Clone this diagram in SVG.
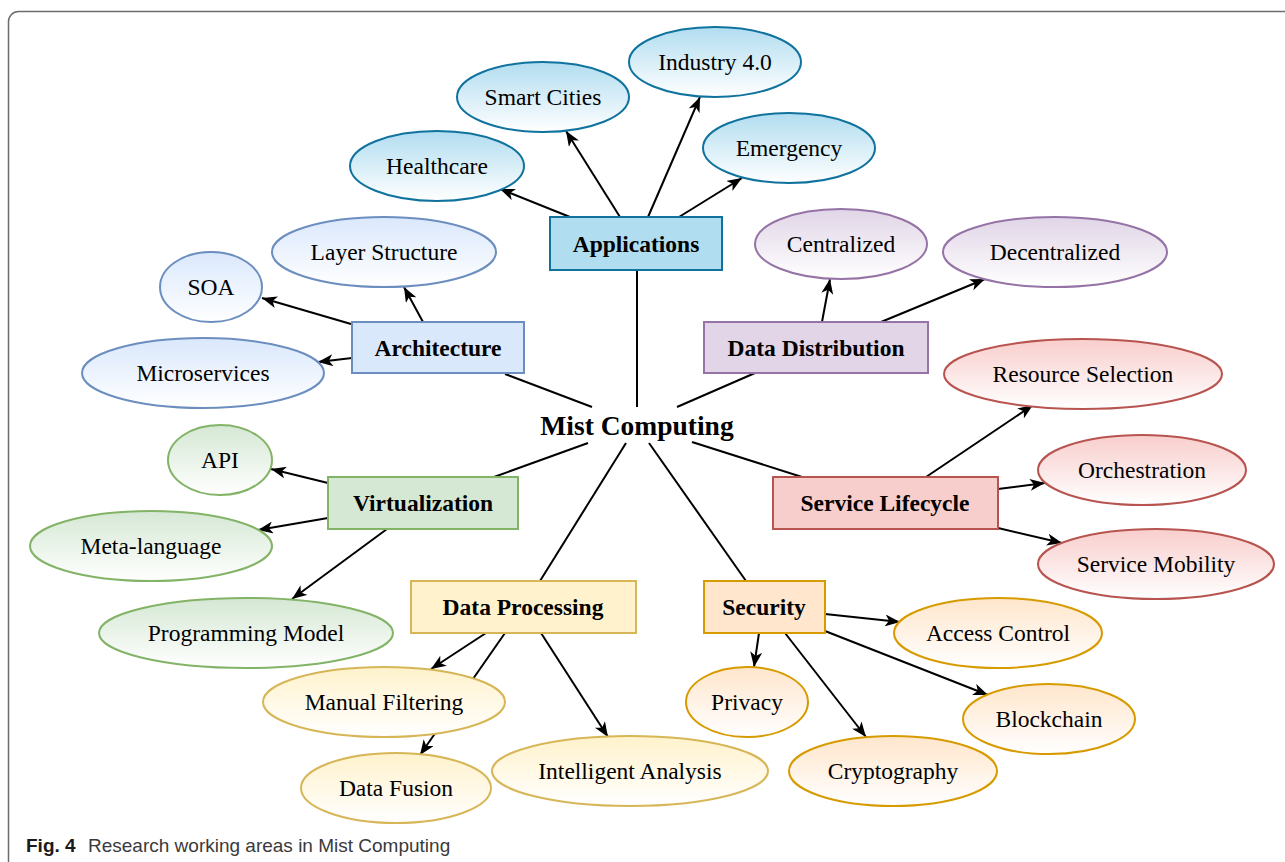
<svg xmlns="http://www.w3.org/2000/svg" width="1285" height="862" viewBox="0 0 1285 862">
  <style>
    .frame { fill: #ffffff; stroke: #6b6b6b; stroke-width: 1.5; }
    .box { stroke-width: 2; }
    .leaf { stroke-width: 2; }
    .label { font-family: "Liberation Serif", "Times New Roman", serif; font-size: 23.5px; fill: #000; text-anchor: middle; dominant-baseline: central; }
    .title { font-weight: bold; }
    .hub { font-family: "Liberation Serif", "Times New Roman", serif; font-size: 27.5px; font-weight: bold; fill: #000; text-anchor: middle; }
    .edge { stroke: #000; stroke-width: 2; fill: none; }
    .arrow { marker-end: url(#head); }
    .caption { font-family: "Liberation Sans", Arial, sans-serif; font-size: 19px; fill: #3a3a3a; }
    .blue .box { fill: #b1ddf0; stroke: #10739e; }
    .blue .leaf { fill: url(#gBlue); stroke: #10739e; }
    .lblue .box { fill: #dae8fc; stroke: #6c8ebf; }
    .lblue .leaf { fill: url(#gLBlue); stroke: #6c8ebf; }
    .purple .box { fill: #e1d5e7; stroke: #9673a6; }
    .purple .leaf { fill: url(#gPurple); stroke: #9673a6; }
    .red .box { fill: #f8cecc; stroke: #b85450; }
    .red .leaf { fill: url(#gRed); stroke: #b85450; }
    .green .box { fill: #d5e8d4; stroke: #82b366; }
    .green .leaf { fill: url(#gGreen); stroke: #82b366; }
    .yellow .box { fill: #fff2cc; stroke: #d6b656; }
    .yellow .leaf { fill: url(#gYellow); stroke: #d6b656; }
    .orange .box { fill: #ffe6cc; stroke: #d79b00; }
    .orange .leaf { fill: url(#gOrange); stroke: #d79b00; }
  </style>
  <defs>
    <marker id="head" markerUnits="userSpaceOnUse" markerWidth="16" markerHeight="12" refX="15" refY="6" orient="auto">
      <path d="M0,0 L15,6 L0,12 L4,6 Z" fill="#000"/>
    </marker>
    <linearGradient id="gBlue" x1="0" y1="0" x2="0" y2="1"><stop offset="0" stop-color="#b1ddf0"/><stop offset="1" stop-color="#ffffff"/></linearGradient>
    <linearGradient id="gLBlue" x1="0" y1="0" x2="0" y2="1"><stop offset="0" stop-color="#dae8fc"/><stop offset="1" stop-color="#ffffff"/></linearGradient>
    <linearGradient id="gPurple" x1="0" y1="0" x2="0" y2="1"><stop offset="0" stop-color="#e1d5e7"/><stop offset="1" stop-color="#ffffff"/></linearGradient>
    <linearGradient id="gRed" x1="0" y1="0" x2="0" y2="1"><stop offset="0" stop-color="#f8cecc"/><stop offset="1" stop-color="#ffffff"/></linearGradient>
    <linearGradient id="gGreen" x1="0" y1="0" x2="0" y2="1"><stop offset="0" stop-color="#d5e8d4"/><stop offset="1" stop-color="#ffffff"/></linearGradient>
    <linearGradient id="gYellow" x1="0" y1="0" x2="0" y2="1"><stop offset="0" stop-color="#fff2cc"/><stop offset="1" stop-color="#ffffff"/></linearGradient>
    <linearGradient id="gOrange" x1="0" y1="0" x2="0" y2="1"><stop offset="0" stop-color="#ffe6cc"/><stop offset="1" stop-color="#ffffff"/></linearGradient>
  </defs>

  <!-- page frame, open at right and bottom -->
  <rect class="frame" x="8.5" y="11.5" width="1320" height="900" rx="10"/>

  <!-- connectors (drawn first so shapes sit on top) -->
  <g id="connectors">
    <!-- hub to categories -->
    <line class="edge" x1="637" y1="270" x2="637" y2="407"/>
    <line class="edge" x1="505" y1="374" x2="592" y2="407"/>
    <line class="edge" x1="755" y1="373" x2="677" y2="407"/>
    <line class="edge" x1="494" y1="477" x2="588" y2="443"/>
    <line class="edge" x1="540" y1="581" x2="626" y2="443"/>
    <line class="edge" x1="746" y1="581" x2="649" y2="443"/>
    <line class="edge" x1="802" y1="477" x2="692" y2="442"/>
    <!-- Applications -->
    <line class="edge arrow" x1="570" y1="217" x2="500" y2="189"/>
    <line class="edge arrow" x1="620" y1="217" x2="566" y2="131"/>
    <line class="edge arrow" x1="648" y1="217" x2="700" y2="97"/>
    <line class="edge arrow" x1="679" y1="217" x2="742" y2="178"/>
    <!-- Architecture -->
    <line class="edge arrow" x1="351" y1="324" x2="262" y2="298"/>
    <line class="edge arrow" x1="423" y1="322" x2="404" y2="287"/>
    <line class="edge arrow" x1="352" y1="358" x2="318" y2="362"/>
    <!-- Data Distribution -->
    <line class="edge arrow" x1="822" y1="322" x2="830" y2="279"/>
    <line class="edge arrow" x1="881" y1="322" x2="985" y2="279"/>
    <!-- Service Lifecycle -->
    <line class="edge arrow" x1="926" y1="477" x2="1033" y2="405"/>
    <line class="edge arrow" x1="998" y1="489" x2="1045" y2="483"/>
    <line class="edge arrow" x1="998" y1="528" x2="1062" y2="543"/>
    <!-- Security -->
    <line class="edge arrow" x1="825" y1="614" x2="900" y2="622"/>
    <line class="edge arrow" x1="825" y1="631" x2="988" y2="695"/>
    <line class="edge arrow" x1="759" y1="633" x2="754" y2="667"/>
    <line class="edge arrow" x1="785" y1="633" x2="866" y2="737"/>
    <!-- Virtualization -->
    <line class="edge arrow" x1="328" y1="483" x2="271" y2="469"/>
    <line class="edge arrow" x1="328" y1="518" x2="258" y2="530"/>
    <line class="edge arrow" x1="387" y1="529" x2="292" y2="599"/>
    <!-- Data Processing -->
    <line class="edge arrow" x1="486" y1="633" x2="431" y2="669"/>
    <line class="edge arrow" x1="505" y1="633" x2="420" y2="755"/>
    <line class="edge arrow" x1="541" y1="633" x2="608" y2="737"/>
  </g>

  <!-- hub -->
  <g id="mist-computing">
    <text class="hub" x="637" y="435">Mist Computing</text>
  </g>

  <!-- Applications -->
  <g id="applications" class="blue">
    <rect class="box" x="550" y="217" width="172" height="53"/>
    <text class="label title" x="636" y="244">Applications</text>
  </g>
  <g id="healthcare" class="blue">
    <ellipse class="leaf" cx="437" cy="166" rx="87" ry="35"/>
    <text class="label" x="437" y="166">Healthcare</text>
  </g>
  <g id="smart-cities" class="blue">
    <ellipse class="leaf" cx="543" cy="97" rx="86" ry="35"/>
    <text class="label" x="543" y="97">Smart Cities</text>
  </g>
  <g id="industry-40" class="blue">
    <ellipse class="leaf" cx="715" cy="62" rx="86" ry="35"/>
    <text class="label" x="715" y="62">Industry 4.0</text>
  </g>
  <g id="emergency" class="blue">
    <ellipse class="leaf" cx="789" cy="148" rx="86" ry="35"/>
    <text class="label" x="789" y="148">Emergency</text>
  </g>

  <!-- Architecture -->
  <g id="architecture" class="lblue">
    <rect class="box" x="352" y="322" width="172" height="51"/>
    <text class="label title" x="438" y="348">Architecture</text>
  </g>
  <g id="layer-structure" class="lblue">
    <ellipse class="leaf" cx="384" cy="252" rx="112" ry="35"/>
    <text class="label" x="384" y="252">Layer Structure</text>
  </g>
  <g id="soa" class="lblue">
    <ellipse class="leaf" cx="211" cy="287" rx="51" ry="35"/>
    <text class="label" x="211" y="287">SOA</text>
  </g>
  <g id="microservices" class="lblue">
    <ellipse class="leaf" cx="203" cy="373" rx="121" ry="35"/>
    <text class="label" x="203" y="373">Microservices</text>
  </g>

  <!-- Data Distribution -->
  <g id="data-distribution" class="purple">
    <rect class="box" x="704" y="322" width="224" height="51"/>
    <text class="label title" x="816" y="348">Data Distribution</text>
  </g>
  <g id="centralized" class="purple">
    <ellipse class="leaf" cx="841" cy="244" rx="86" ry="35"/>
    <text class="label" x="841" y="244">Centralized</text>
  </g>
  <g id="decentralized" class="purple">
    <ellipse class="leaf" cx="1055" cy="252" rx="112" ry="35"/>
    <text class="label" x="1055" y="252">Decentralized</text>
  </g>

  <!-- Service Lifecycle -->
  <g id="service-lifecycle" class="red">
    <rect class="box" x="773" y="477" width="225" height="52"/>
    <text class="label title" x="885" y="503">Service Lifecycle</text>
  </g>
  <g id="resource-selection" class="red">
    <ellipse class="leaf" cx="1083" cy="374" rx="139" ry="35"/>
    <text class="label" x="1083" y="374">Resource Selection</text>
  </g>
  <g id="orchestration" class="red">
    <ellipse class="leaf" cx="1142" cy="470" rx="104" ry="35"/>
    <text class="label" x="1142" y="470">Orchestration</text>
  </g>
  <g id="service-mobility" class="red">
    <ellipse class="leaf" cx="1156" cy="564" rx="118" ry="35"/>
    <text class="label" x="1156" y="564">Service Mobility</text>
  </g>

  <!-- Security -->
  <g id="security" class="orange">
    <rect class="box" x="704" y="581" width="121" height="52"/>
    <text class="label title" x="764" y="607">Security</text>
  </g>
  <g id="access-control" class="orange">
    <ellipse class="leaf" cx="998" cy="633" rx="104" ry="35"/>
    <text class="label" x="998" y="633">Access Control</text>
  </g>
  <g id="privacy" class="orange">
    <ellipse class="leaf" cx="747" cy="702" rx="61" ry="35"/>
    <text class="label" x="747" y="702">Privacy</text>
  </g>
  <g id="blockchain" class="orange">
    <ellipse class="leaf" cx="1049" cy="719" rx="86" ry="35"/>
    <text class="label" x="1049" y="719">Blockchain</text>
  </g>
  <g id="cryptography" class="orange">
    <ellipse class="leaf" cx="893" cy="771" rx="104" ry="35"/>
    <text class="label" x="893" y="771">Cryptography</text>
  </g>

  <!-- Virtualization -->
  <g id="virtualization" class="green">
    <rect class="box" x="328" y="477" width="190" height="52"/>
    <text class="label title" x="423" y="503">Virtualization</text>
  </g>
  <g id="api" class="green">
    <ellipse class="leaf" cx="220" cy="460" rx="52" ry="35"/>
    <text class="label" x="220" y="460">API</text>
  </g>
  <g id="meta-language" class="green">
    <ellipse class="leaf" cx="151" cy="546" rx="121" ry="35"/>
    <text class="label" x="151" y="546">Meta-language</text>
  </g>
  <g id="programming-model" class="green">
    <ellipse class="leaf" cx="246" cy="633" rx="147" ry="35"/>
    <text class="label" x="246" y="633">Programming Model</text>
  </g>

  <!-- Data Processing -->
  <g id="data-processing" class="yellow">
    <rect class="box" x="411" y="581" width="225" height="52"/>
    <text class="label title" x="523" y="607">Data Processing</text>
  </g>
  <g id="manual-filtering" class="yellow">
    <ellipse class="leaf" cx="384" cy="702" rx="121" ry="35"/>
    <text class="label" x="384" y="702">Manual Filtering</text>
  </g>
  <g id="data-fusion" class="yellow">
    <ellipse class="leaf" cx="396" cy="788" rx="95" ry="35"/>
    <text class="label" x="396" y="788">Data Fusion</text>
  </g>
  <g id="intelligent-analysis" class="yellow">
    <ellipse class="leaf" cx="630" cy="771" rx="138" ry="35"/>
    <text class="label" x="630" y="771">Intelligent Analysis</text>
  </g>

  <!-- caption -->
  <text class="caption" x="26" y="852"><tspan font-weight="bold" fill="#1a1a1a">Fig. 4</tspan><tspan x="88">Research working areas in Mist Computing</tspan></text>
</svg>
